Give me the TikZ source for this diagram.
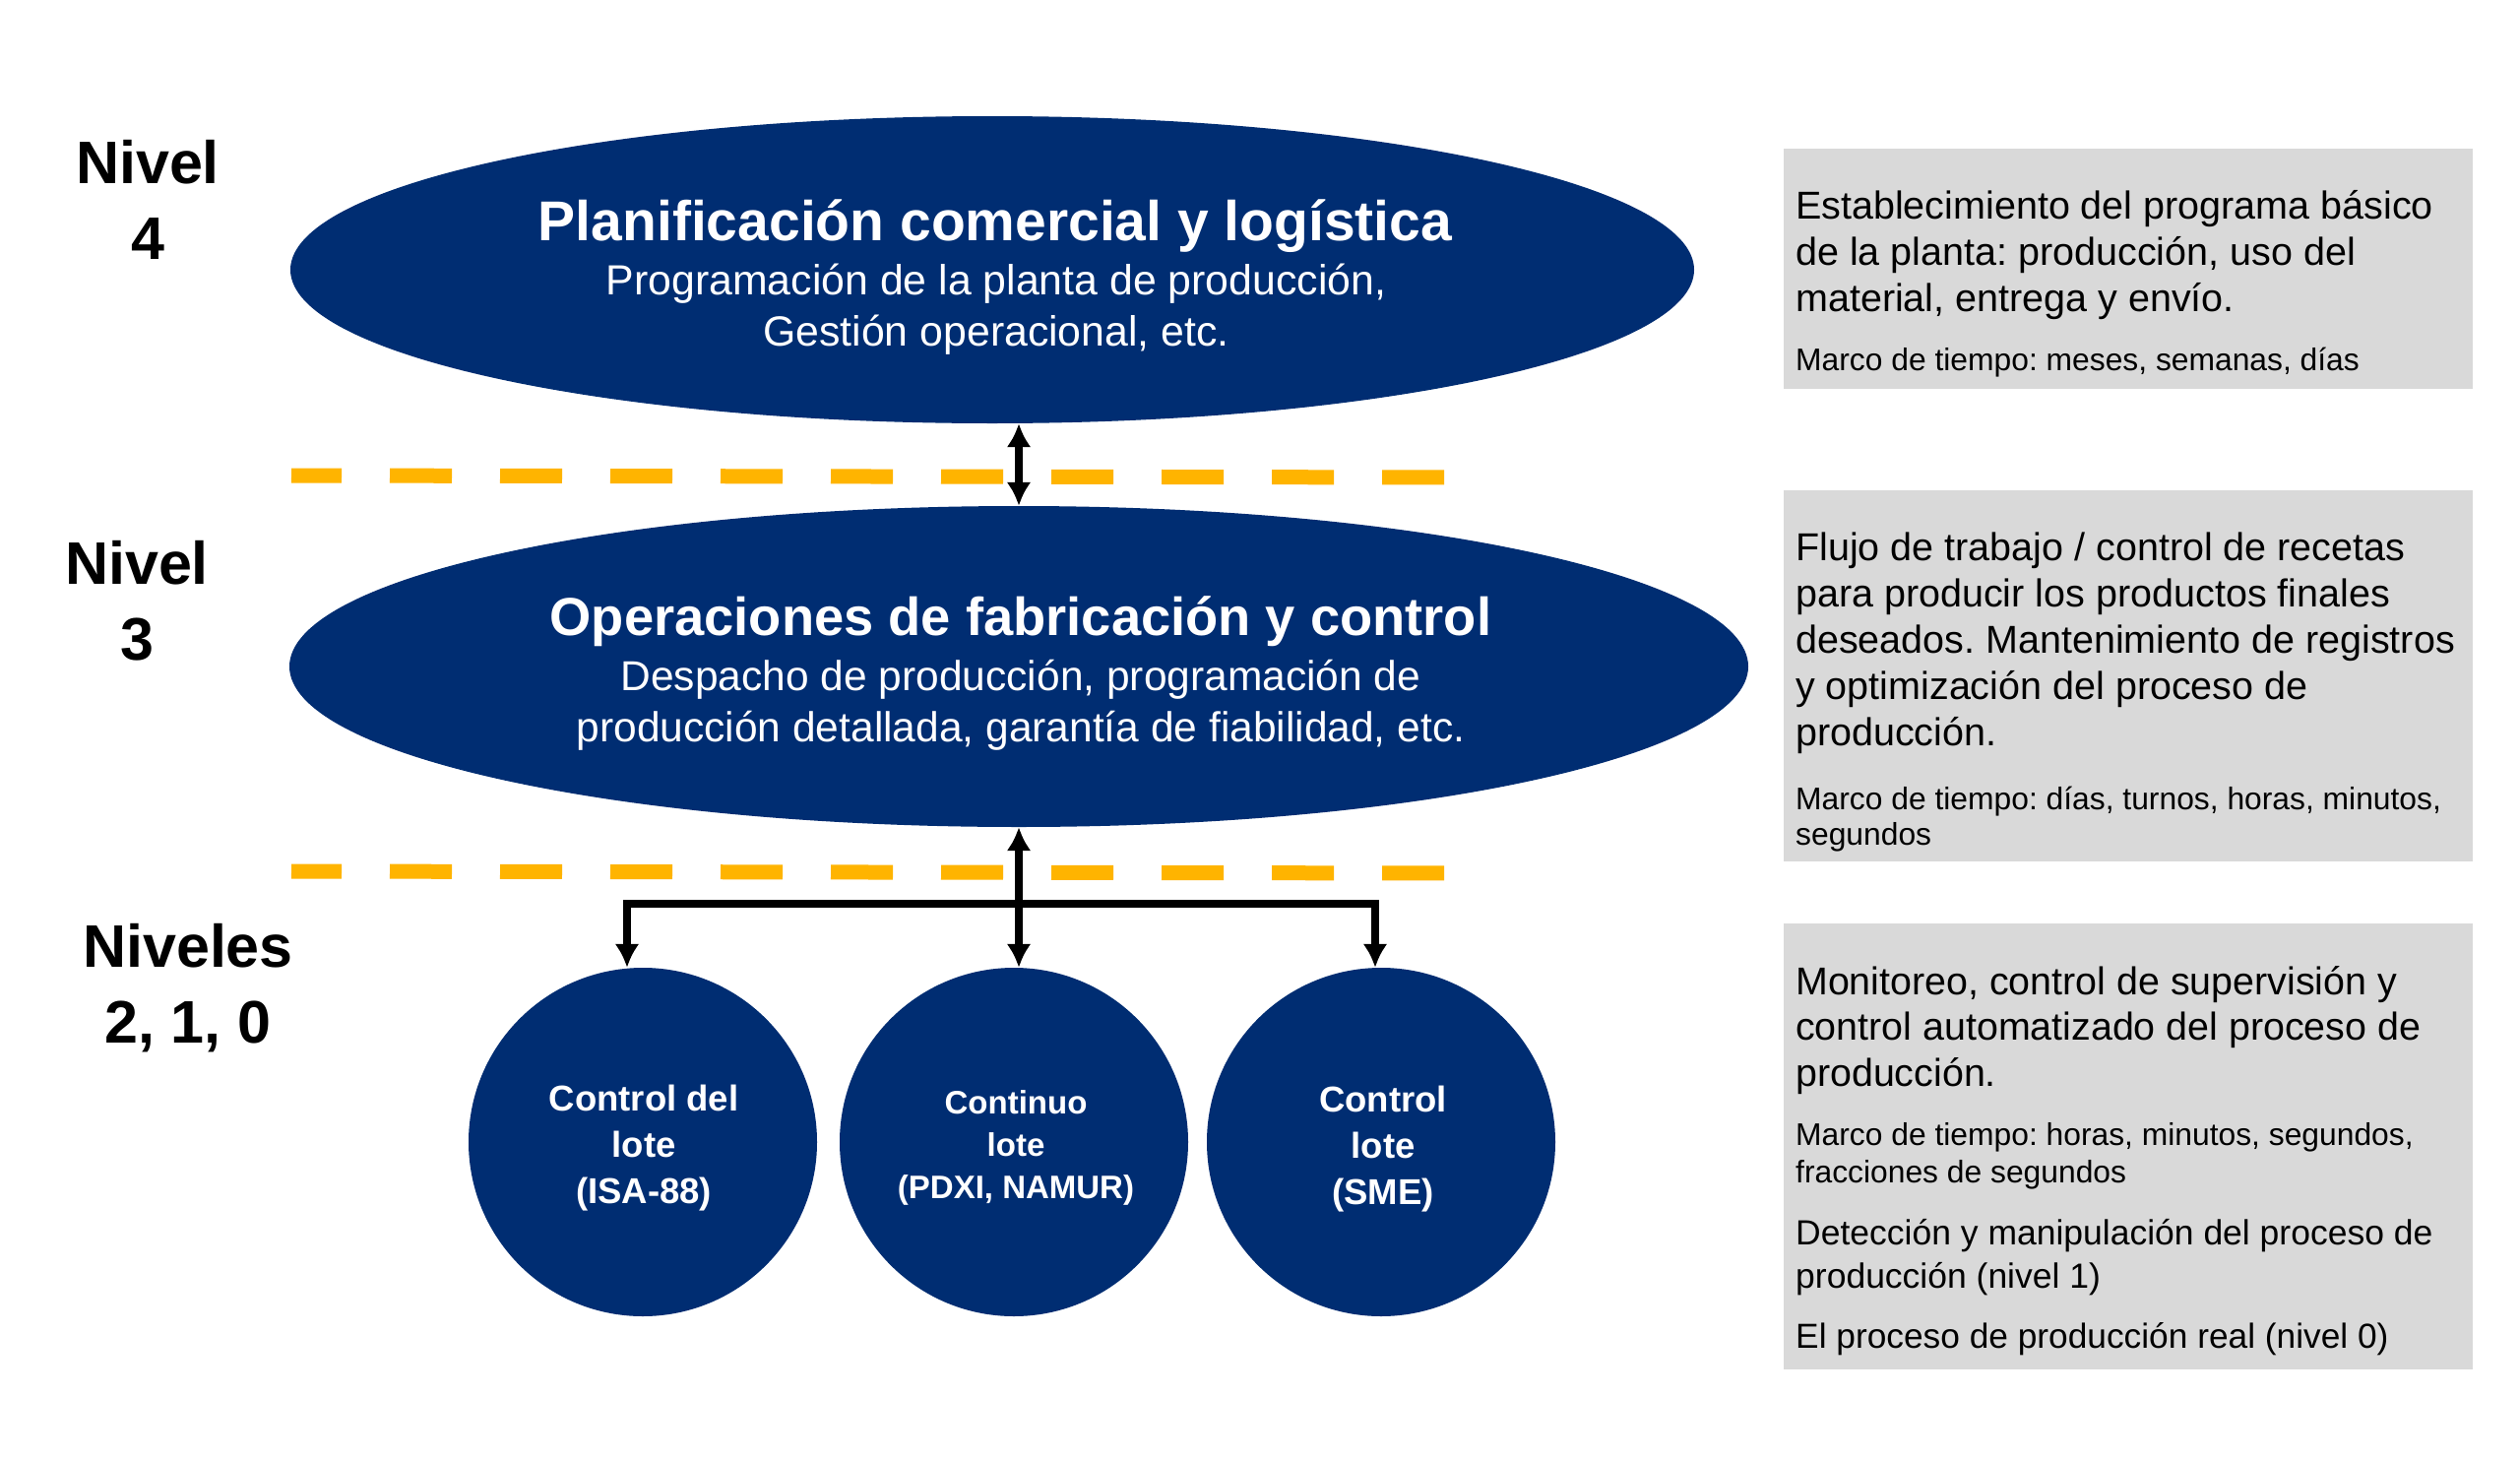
\documentclass[tikz,border=0pt]{standalone}
\usepackage{fontspec}
\setmainfont{Liberation Sans}
\usetikzlibrary{shapes.geometric,arrows.meta}
\definecolor{navy}{RGB}{0,45,114}
\definecolor{gold}{RGB}{255,180,0}
\definecolor{boxgrey}{RGB}{217,217,217}
\frenchspacing
\begin{document}
\begin{tikzpicture}[x=1pt,y=-1pt,
  ell/.style={ellipse,fill=navy,draw=none,inner sep=0},
  circ/.style={circle,fill=navy,draw=none,minimum size=354pt,inner sep=0},
  ctxt/.style={inner sep=0,anchor=base,text=white,align=center},
  ltxt/.style={inner sep=0,anchor=base west,text=black},
  sepline/.style={gold,line width=15pt,dash pattern=on 63pt off 49pt,dash phase=12pt},
  conn/.style={line width=7.5pt,line join=miter},
  tip/.tip={Latex[length=24pt,width=25pt]},
  gbox/.style={fill=boxgrey,draw=none,inner sep=0,anchor=north west}]
\useasboundingbox (0,0) rectangle (2560,1483);
\fill[white] (0,0) rectangle (2560,1483);

% level labels
\node[ctxt,text=black] (n4) at (150,186) {\parbox[t]{300pt}{\centering\fontsize{61}{77}\selectfont\bfseries Nivel\\4}};
\node[ctxt,text=black] (n3) at (139,593) {\parbox[t]{300pt}{\centering\fontsize{61}{77}\selectfont\bfseries Nivel\\3}};
\node[ctxt,text=black] (n210) at (191,982) {\parbox[t]{300pt}{\centering\fontsize{61}{77}\selectfont\bfseries Niveles\\2, 1, 0}};

% ellipses
\node[ell,minimum width=1426pt,minimum height=312pt] (e1) at (1008,274) {};
\node[ell,minimum width=1482pt,minimum height=326pt] (e2) at (1035,677) {};

\node[ctxt] (t1) at (1011,244) {\parbox[t]{1300pt}{\centering\fontsize{57}{60}\selectfont\bfseries Planificación comercial y logística}};
\node[ctxt] (s1) at (1012,299) {\parbox[t]{1300pt}{\centering\fontsize{42.8}{52}\selectfont Programación de la planta de producción,\\Gestión operacional, etc.}};
\node[ctxt] (t2) at (1037,645) {\parbox[t]{1300pt}{\centering\fontsize{54.3}{60}\selectfont\bfseries Operaciones de fabricación y control}};
\node[ctxt] (s2) at (1037,701) {\parbox[t]{1300pt}{\centering\fontsize{42.5}{52}\selectfont Despacho de producción, programación de\\producción detallada, garantía de fiabilidad, etc.}};

% dashed separators
\draw[sepline] (296,483) -- (1480,485);
\draw[sepline] (296,885) -- (1480,887);

% circles
\node[circ] (c1) at (653,1160) {};
\node[circ] (c2) at (1030,1160) {};
\node[circ] (c3) at (1403,1160) {};
\node[ctxt] (ct1) at (654,1128) {\parbox[t]{330pt}{\centering\fontsize{36.5}{47}\selectfont\bfseries Control del\\lote\\(ISA-88)}};
\node[ctxt] (ct2) at (1032,1131) {\parbox[t]{330pt}{\centering\fontsize{33}{43}\selectfont\bfseries Continuo\\lote\\(PDXI, NAMUR)}};
\node[ctxt] (ct3) at (1405,1129) {\parbox[t]{330pt}{\centering\fontsize{36.5}{47}\selectfont\bfseries Control\\lote\\(SME)}};

% connectors
\draw[conn,tip-tip] (e2.north) -- (e2.north |- e1.south);
\coordinate (bl) at (637,918);
\coordinate (br) at (1397,918);
\draw[conn,tip-tip] (e2.south) -- (e2.south |- c2.north);
\draw[conn,tip-tip] (bl |- c1.north) -- (bl) -- (br) -- (br |- c3.north);

% right boxes
\node[gbox,minimum width=700pt,minimum height=244pt] (b1) at (1812,151) {};
\node[gbox,minimum width=700pt,minimum height=377pt] (b2) at (1812,498) {};
\node[gbox,minimum width=700pt,minimum height=453pt] (b3) at (1812,938) {};

\node[ltxt] (b1a) at (1824,222) {\parbox[t]{690pt}{\raggedright\fontsize{39.5}{47}\selectfont Establecimiento del programa básico\\de la planta: producción, uso del\\material, entrega y envío.}};
\node[ltxt] (b1b) at (1824,376) {\parbox[t]{690pt}{\raggedright\fontsize{31.8}{36}\selectfont Marco de tiempo: meses, semanas, días}};

\node[ltxt] (b2a) at (1824,569) {\parbox[t]{690pt}{\raggedright\fontsize{39.5}{47}\selectfont Flujo de trabajo / control de recetas\\para producir los productos finales\\deseados. Mantenimiento de registros\\y optimización del proceso de\\producción.}};
\node[ltxt] (b2b) at (1824,822) {\parbox[t]{690pt}{\raggedright\fontsize{31.8}{36}\selectfont Marco de tiempo: días, turnos, horas, minutos,\\segundos}};

\node[ltxt] (b3a) at (1824,1010) {\parbox[t]{690pt}{\raggedright\fontsize{39.4}{46.5}\selectfont Monitoreo, control de supervisión y\\control automatizado del proceso de\\producción.}};
\node[ltxt] (b3b) at (1824,1163) {\parbox[t]{690pt}{\raggedright\fontsize{31.8}{38}\selectfont Marco de tiempo: horas, minutos, segundos,\\fracciones de segundos}};
\node[ltxt] (b3c) at (1824,1264) {\parbox[t]{690pt}{\raggedright\fontsize{35.5}{44}\selectfont Detección y manipulación del proceso de\\producción (nivel 1)}};
\node[ltxt] (b3d) at (1824,1369) {\parbox[t]{690pt}{\raggedright\fontsize{35.3}{44}\selectfont El proceso de producción real (nivel 0)}};
\end{tikzpicture}
\end{document}
